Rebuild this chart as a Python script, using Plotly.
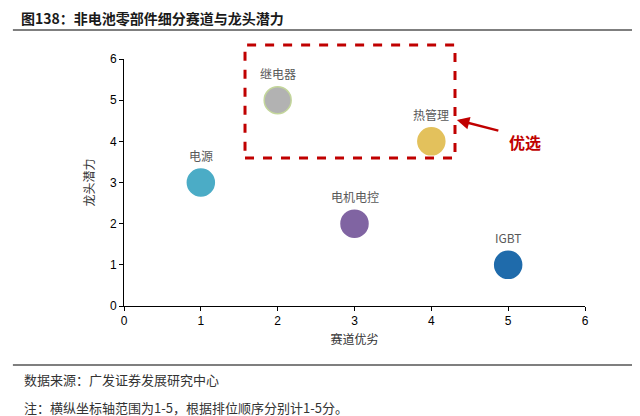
import plotly.graph_objects as go

# track advantage (x) vs leader potential (y)
names = ["电源", "继电器", "电机电控", "热管理", "IGBT"]
track_score = [1, 2, 3, 4, 5]
leader_score = [3, 5, 2, 4, 1]
colors = ["#4BACC6", "#B2B2B2", "#8064A2", "#E3C15C", "#1F6BAB"]
borders = ["#4BACC6", "#C3D69B", "#8064A2", "#E3C15C", "#1F6BAB"]

axis_ticks = [0, 1, 2, 3, 4, 5, 6]

RED = "#C00000"
CJK = "Noto Sans CJK SC"
LABEL_GREY = "#595959"

fig = go.Figure()

fig.add_trace(go.Scatter(
    x=track_score,
    y=leader_score,
    mode="markers",
    marker=dict(size=27, color=colors, line=dict(color=borders, width=1.5)),
    cliponaxis=False,
    hoverinfo="skip",
    showlegend=False,
))

# point labels sit a little higher than plotly's default text position
for name, xv, yv in zip(names, track_score, leader_score):
    fig.add_annotation(x=xv, y=yv, text=name, showarrow=False, yshift=27,
                       font=dict(family=CJK, size=12, color=LABEL_GREY))

axis_common = dict(
    range=[0, 6],
    tickvals=axis_ticks,
    showgrid=False,
    zeroline=False,
    showline=True,
    linecolor="#000000",
    linewidth=1,
    ticks="outside",
    ticklen=4,
    tickcolor="#000000",
    tickfont=dict(family="Liberation Sans, Arial", size=12, color="#000000"),
)

# page body has an 8px margin, so the figure is 8px smaller than the window
fig.update_layout(
    width=632,
    height=408,
    margin=dict(l=116, r=55, t=51, b=110),
    plot_bgcolor="white",
    paper_bgcolor="white",
    xaxis=dict(**axis_common,
               title=dict(text="赛道优劣", font=dict(family=CJK, size=12, color="#333333"),
                          standoff=8)),
    yaxis=dict(**axis_common,
               title=dict(text="龙头潜力", font=dict(family=CJK, size=12, color="#333333"),
                          standoff=12)),
)

# header / footer rules
fig.add_shape(type="line", xref="paper", yref="paper", x0=-0.241, x1=1.12, y0=1.117, y1=1.117,
              line=dict(color="#555555", width=1.5))
fig.add_shape(type="line", xref="paper", yref="paper", x0=-0.241, x1=1.12, y0=-0.239, y1=-0.239,
              line=dict(color="#555555", width=1.5))

# highlighted "preferred" box
fig.add_shape(type="rect", xref="paper", yref="paper", x0=0.2625, x1=0.718, y0=0.599, y1=1.057,
              line=dict(color=RED, width=3, dash="dash"))

fig.add_annotation(
    x=0.722, y=0.753, xref="paper", yref="paper",
    ax=43, ay=11, axref="pixel", ayref="pixel",
    text="", showarrow=True, arrowhead=2, arrowsize=1, arrowwidth=2.5, arrowcolor=RED,
)
fig.add_annotation(
    x=0.83, y=0.665, xref="paper", yref="paper", xanchor="left", yanchor="middle",
    text="<b>优选</b>", showarrow=False, font=dict(family=CJK, size=16, color=RED),
)

fig.add_annotation(
    x=-0.227, y=1.166, xref="paper", yref="paper", xanchor="left", yanchor="middle",
    text="<b>图138：非电池零部件细分赛道与龙头潜力</b>", showarrow=False,
    font=dict(family=CJK, size=14, color="#1a1a1a"),
)
fig.add_annotation(
    x=-0.221, y=-0.297, xref="paper", yref="paper", xanchor="left", yanchor="middle",
    text="数据来源：广发证券发展研究中心", showarrow=False,
    font=dict(family=CJK, size=13, color="#333333"),
)
fig.add_annotation(
    x=-0.221, y=-0.409, xref="paper", yref="paper", xanchor="left", yanchor="middle",
    text="注：横纵坐标轴范围为1-5，根据排位顺序分别计1-5分。", showarrow=False,
    font=dict(family=CJK, size=13, color="#333333"),
)

fig.write_html("out.html")
